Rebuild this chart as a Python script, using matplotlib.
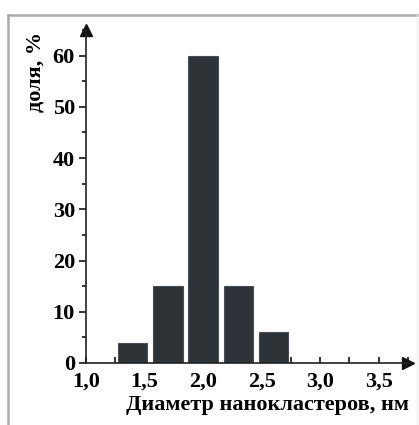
import matplotlib
matplotlib.use("Agg")
import matplotlib.pyplot as plt
from matplotlib.lines import Line2D
from matplotlib.ticker import MultipleLocator, FixedLocator

diameters = [1.4, 1.7, 2.0, 2.3, 2.6]
shares = [4, 15, 60, 15, 6]
xticks = [1.0, 1.5, 2.0, 2.5, 3.0, 3.5]
xticklabels = ["1,0", "1,5", "2,0", "2,5", "3,0", "3,5"]
yticks = [0, 10, 20, 30, 40, 50, 60]

plt.rcParams['font.family'] = ['Liberation Serif', 'DejaVu Serif']
plt.rcParams['font.weight'] = 'bold'

W, H = 419, 425
fig = plt.figure(figsize=(W/100, H/100), dpi=100)
x0, x1 = 86, 408
y0, y1 = 363, 30
ax = fig.add_axes([x0/W, (H-y0)/H, (x1-x0)/W, (y0-y1)/H])
ax.set_xlim(1.0, 3.75)
ax.set_ylim(0, 65)

ax.bar(diameters, shares, width=0.25, color='#2e3338', edgecolor='#4a4f55', linewidth=0.8, zorder=2)

for s in ['top', 'right']:
    ax.spines[s].set_visible(False)
for s in ['left', 'bottom']:
    ax.spines[s].set_linewidth(1.2)
    ax.spines[s].set_color('#222222')

ax.plot(1, 0, '>', color='#111111', markersize=8, transform=ax.transAxes, clip_on=False)
ax.plot(0, 1, '^', color='#111111', markersize=8, transform=ax.transAxes, clip_on=False)

ax.xaxis.set_major_locator(FixedLocator(xticks))
ax.set_xticklabels(xticklabels)
ax.xaxis.set_minor_locator(MultipleLocator(0.25))
ax.yaxis.set_major_locator(FixedLocator(yticks))
ax.yaxis.set_minor_locator(MultipleLocator(5))
ax.tick_params(axis='x', which='both', direction='in', length=4, width=1.1, labelsize=16, pad=6)
ax.tick_params(axis='y', which='major', direction='out', length=5, width=1.1, labelsize=16, pad=3)
ax.tick_params(axis='y', which='minor', direction='out', length=3, width=1.1)
for lab in ax.get_xticklabels() + ax.get_yticklabels():
    lab.set_fontweight('bold')

ax.set_xlabel('Диаметр нанокластеров, нм', fontsize=16, fontweight='bold')
ax.xaxis.label.set_va('center')
ax.xaxis.set_label_coords((405+130)/2/W, (H-405)/H, transform=fig.transFigure)
ax.set_ylabel('доля, %', fontsize=16, fontweight='bold')
ax.yaxis.label.set_va('center')
ax.yaxis.set_label_coords(35/W, (H-72)/H, transform=fig.transFigure)

# outer frame lines (top and left)
fig.add_artist(Line2D([8/W, 8/W], [0, (H-15)/H], transform=fig.transFigure, color='#aaaaaa', linewidth=1.8))
fig.add_artist(Line2D([8/W, 1], [(H-15)/H, (H-15)/H], transform=fig.transFigure, color='#aaaaaa', linewidth=1.8))
fig.add_artist(Line2D([417/W, 417/W], [0, (H-15)/H], transform=fig.transFigure, color='#eeeeee', linewidth=1.0))

fig.savefig('out.png', dpi=100)
